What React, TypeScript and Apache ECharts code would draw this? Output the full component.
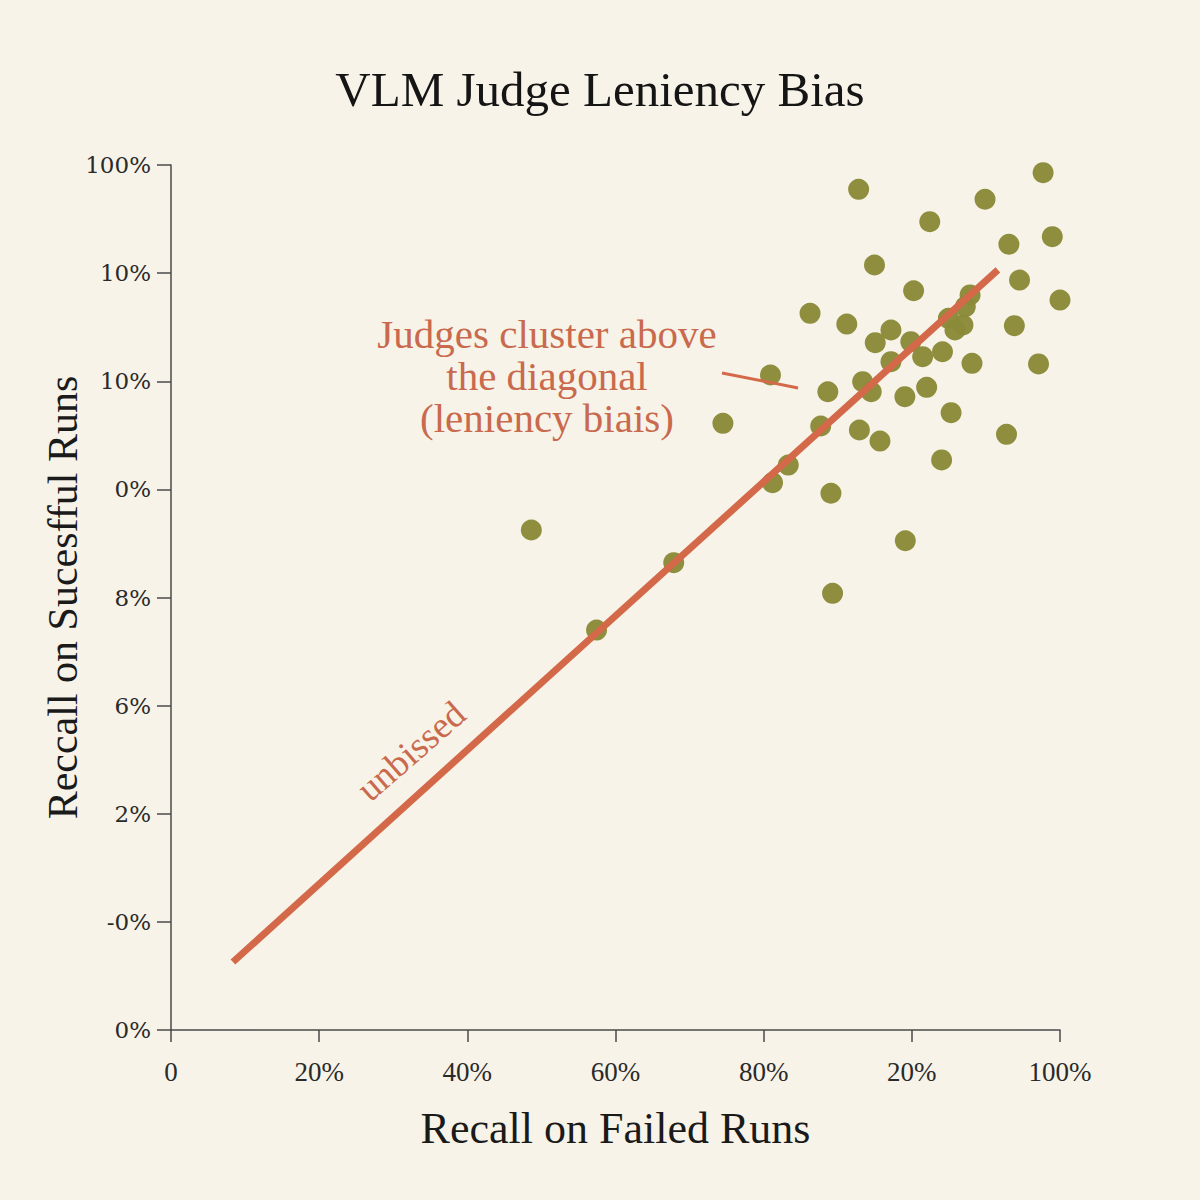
import React, { useEffect, useRef } from "react";
import * as echarts from "echarts";

// Tick labels as printed on each axis (x: left to right, y: bottom to top)
const xTickLabels = ["0", "20%", "40%", "60%", "80%", "20%", "100%"];
const yTickLabels = ["0%", "-0%", "2%", "6%", "8%", "0%", "10%", "10%", "100%"];

// Judges, in axis tick units: [recall on failed runs, recall on successful runs]
const judges: [number, number][] = [
  [4.641, 7.775], [5.886, 7.929], [5.494, 7.683], [5.121, 7.476],
  [5.655, 7.267], [5.948, 7.337], [4.748, 7.075], [5.012, 6.837],
  [5.727, 6.936], [6.0, 6.751], [4.313, 6.628], [4.561, 6.529],
  [5.393, 6.798], [5.247, 6.582], [5.345, 6.52], [5.361, 6.69],
  [5.291, 6.474], [5.692, 6.514], [4.859, 6.474], [4.753, 6.357],
  [4.993, 6.366], [4.859, 6.181], [5.073, 6.227], [5.207, 6.273],
  [5.406, 6.166], [5.855, 6.16], [4.046, 6.058], [4.433, 5.903],
  [4.668, 5.996], [4.726, 5.903], [4.953, 5.857], [5.1, 5.944],
  [5.265, 5.709], [3.725, 5.611], [4.385, 5.586], [4.646, 5.549],
  [4.785, 5.447], [5.639, 5.509], [5.201, 5.272], [4.166, 5.225],
  [4.06, 5.062], [4.454, 4.964], [2.432, 4.624], [4.956, 4.525],
  [4.465, 4.039], [3.393, 4.322], [2.872, 3.699],
];

// Reference diagonal ("unbissed") end points
const diagonal: [number, number][] = [
  [0.418, 0.629],
  [5.581, 7.03],
];

// Leader line from the annotation toward the cluster
const leader: [number, number][] = [
  [3.719, 6.077],
  [4.232, 5.938],
];

const titleText = "VLM Judge Leniency Bias";
const xName = "Recall on Failed Runs";
const yName = "Reccall on Sucesfful Runs";
const noteLines = ["Judges cluster above", "the diagonal", "(leniency biais)"];
const diagonalLabel = "unbissed";

const BG = "#f7f3e8";
const DOT = "#8a8a38";
const ACCENT = "#d4694a";
const NOTE = "#c9694d";
const AXIS = "#4a4a4a";
const SERIF = "'Liberation Serif', 'DejaVu Serif', serif";

export default function App() {
  const ref = useRef<HTMLDivElement>(null);

  useEffect(() => {
    if (!ref.current) return;
    const chart = echarts.init(ref.current, undefined, { renderer: "svg" });
    chart.setOption({
      animation: false,
      backgroundColor: BG,
      title: {
        text: titleText,
        left: "center",
        top: 60,
        textStyle: {
          fontFamily: SERIF,
          fontSize: 49,
          fontWeight: "normal",
          color: "#151515",
        },
      },
      grid: { left: 171, right: 140, top: 165, bottom: 170 },
      xAxis: {
        type: "value",
        min: 0,
        max: 6,
        interval: 1,
        name: xName,
        nameLocation: "middle",
        nameGap: 76,
        nameTextStyle: { fontFamily: SERIF, fontSize: 44, color: "#1a1a1a" },
        axisLine: { lineStyle: { color: AXIS, width: 1.5 } },
        axisTick: { show: true, length: 12, lineStyle: { color: AXIS, width: 1.5 } },
        splitLine: { show: false },
        axisLabel: {
          margin: 28,
          fontFamily: SERIF,
          fontSize: 27,
          color: "#2a2a2a",
          formatter: (v: number) => xTickLabels[Math.round(v)] ?? "",
        },
      },
      yAxis: {
        type: "value",
        min: 0,
        max: 8,
        interval: 1,
        name: yName,
        nameLocation: "middle",
        nameGap: 87,
        nameMoveOverlap: false,
        nameTextStyle: { fontFamily: SERIF, fontSize: 42, color: "#1a1a1a" },
        axisLine: { show: true, lineStyle: { color: AXIS, width: 1.5 } },
        axisTick: { show: true, length: 14, lineStyle: { color: AXIS, width: 1.5 } },
        splitLine: { show: false },
        axisLabel: {
          margin: 20,
          fontFamily: "'DejaVu Serif', serif",
          fontSize: 23,
          color: "#2a2a2a",
          formatter: (v: number) => yTickLabels[Math.round(v)] ?? "",
        },
      },
      series: [
        {
          type: "scatter",
          data: judges,
          symbolSize: 21,
          clip: false,
          itemStyle: { color: DOT, opacity: 0.97 },
          z: 2,
        },
        {
          type: "line",
          data: diagonal,
          symbol: "none",
          lineStyle: { color: ACCENT, width: 7 },
          z: 3,
        },
        {
          type: "line",
          data: leader,
          symbol: "none",
          lineStyle: { color: ACCENT, width: 3 },
          z: 3,
        },
      ],
      graphic: [
        {
          type: "text",
          x: 547,
          y: 313,
          style: {
            text: noteLines.join("\n"),
            fontFamily: SERIF,
            fontSize: 41,
            lineHeight: 42,
            fill: NOTE,
            align: "center",
            verticalAlign: "top",
          },
          z: 10,
        },
        {
          type: "text",
          x: 411,
          y: 751,
          rotation: (41 * Math.PI) / 180,
          style: {
            text: diagonalLabel,
            fontFamily: SERIF,
            fontSize: 37,
            fill: NOTE,
            align: "center",
            verticalAlign: "middle",
          },
          z: 10,
        },
      ],
    });
    return () => chart.dispose();
  }, []);

  return (
    <div
      ref={ref}
      style={{ position: "absolute", left: 0, top: 0, width: 1200, height: 1200 }}
    />
  );
}
